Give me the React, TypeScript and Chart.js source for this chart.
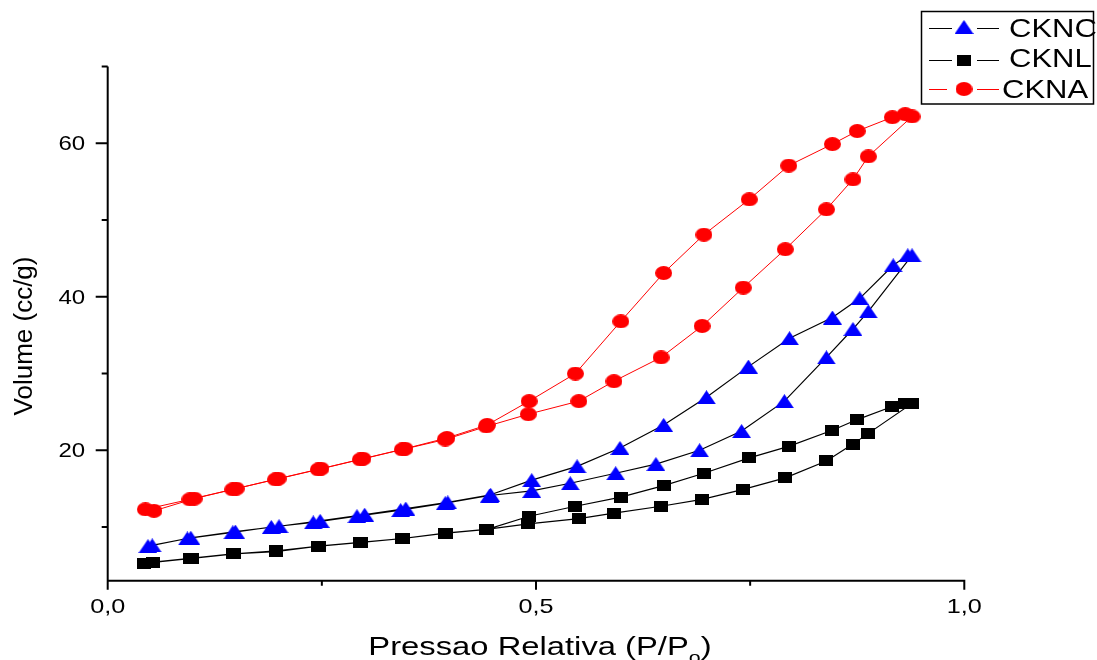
import React, { useEffect, useRef } from "react";
import { Chart, registerables } from "chart.js";

Chart.register(...registerables);

// ---- Axis definitions ----
const X_MIN = 0;
const X_MAX = 1;
const Y_MIN = 3;
const Y_MAX = 70;
const xMajorTicks = [0, 0.5, 1.0];
const xTickLabels = ["0,0", "0,5", "1,0"];
const xMinorTicks = [0.25, 0.75];
const yMajorTicks = [20, 40, 60];
const yTickLabels = ["20", "40", "60"];
const yMinorTicks = [10, 30, 50, 70];

const seriesNames = ["CKNC", "CKNL", "CKNA"];

// ---- CKNC (blue triangles) ----
const ckncAdsP = [0.047, 0.093, 0.146, 0.191, 0.240, 0.291, 0.342, 0.394, 0.446, 0.495, 0.540, 0.593, 0.640, 0.691, 0.740, 0.790, 0.839, 0.870, 0.888, 0.939];
const ckncAdsV = [7.5, 8.5, 9.3, 10.0, 10.6, 11.4, 12.2, 13.1, 14.1, 14.7, 15.7, 17.0, 18.2, 20.0, 22.5, 26.4, 32.1, 35.8, 38.1, 45.4];
const ckncDesP = [0.934, 0.917, 0.878, 0.846, 0.796, 0.748, 0.699, 0.649, 0.598, 0.548, 0.495, 0.447, 0.397, 0.348, 0.300, 0.248, 0.200, 0.149, 0.097, 0.052];
const ckncDesV = [45.4, 44.1, 39.8, 37.3, 34.6, 30.9, 26.9, 23.3, 20.3, 17.9, 16.1, 14.2, 13.2, 12.4, 11.6, 10.8, 10.1, 9.4, 8.6, 7.6];

// ---- CKNL (black squares) ----
const cknlAdsP = [0.042, 0.096, 0.146, 0.196, 0.246, 0.295, 0.344, 0.394, 0.442, 0.491, 0.550, 0.591, 0.646, 0.694, 0.742, 0.791, 0.839, 0.870, 0.888, 0.939];
const cknlAdsV = [5.3, 5.9, 6.5, 6.8, 7.5, 8.0, 8.5, 9.2, 9.7, 10.4, 11.1, 11.8, 12.7, 13.6, 14.9, 16.4, 18.6, 20.8, 22.2, 26.1];
const cknlDesP = [0.931, 0.916, 0.875, 0.846, 0.795, 0.749, 0.696, 0.649, 0.599, 0.546, 0.492, 0.443, 0.395, 0.345, 0.296, 0.247, 0.197, 0.148, 0.098, 0.053];
const cknlDesV = [26.1, 25.7, 24.0, 22.6, 20.5, 19.0, 17.0, 15.4, 13.9, 12.7, 11.4, 9.7, 9.2, 8.5, 8.0, 7.5, 6.9, 6.5, 5.9, 5.4];

// ---- CKNA (red circles) ----
const cknaAdsP = [0.044, 0.096, 0.146, 0.196, 0.246, 0.295, 0.344, 0.394, 0.442, 0.491, 0.550, 0.591, 0.646, 0.694, 0.742, 0.791, 0.839, 0.870, 0.888, 0.939];
const cknaAdsV = [12.3, 13.6, 14.9, 16.2, 17.5, 18.8, 20.1, 21.4, 23.1, 24.7, 26.4, 29.0, 32.1, 36.2, 41.2, 46.2, 51.4, 55.3, 58.3, 63.5];
const cknaDesP = [0.931, 0.916, 0.875, 0.846, 0.795, 0.749, 0.696, 0.649, 0.599, 0.546, 0.492, 0.443, 0.396, 0.347, 0.298, 0.249, 0.199, 0.150, 0.101, 0.054];
const cknaDesV = [63.8, 63.4, 61.6, 59.9, 57.1, 52.7, 48.1, 43.1, 36.8, 30.0, 26.4, 23.3, 21.6, 20.2, 18.9, 17.6, 16.3, 15.0, 13.7, 12.1];

const FONT = '"Liberation Sans", Arial, sans-serif';

function toPoints(p1: number[], v1: number[], p2: number[], v2: number[]) {
  const a = p1.map((p, i) => ({ x: p, y: v1[i] }));
  const b = p2.map((p, i) => ({ x: p, y: v2[i] }));
  return [...a, ...b];
}

function makeMarker(shape: string, color: string, w: number, h: number) {
  const c = document.createElement("canvas");
  c.width = w;
  c.height = h;
  const g = c.getContext("2d")!;
  g.fillStyle = color;
  g.beginPath();
  if (shape === "triangle") {
    g.moveTo(w / 2, 0);
    g.lineTo(w, h);
    g.lineTo(0, h);
    g.closePath();
  } else if (shape === "rect") {
    g.rect(0, 0, w, h);
  } else {
    g.ellipse(w / 2, h / 2, w / 2, h / 2, 0, 0, Math.PI * 2);
  }
  g.fill();
  return c;
}

function stretchedText(ctx: CanvasRenderingContext2D, text: string, x: number, y: number, sx: number, align: CanvasTextAlign, font: string) {
  ctx.save();
  ctx.translate(x, y);
  ctx.scale(sx, 1);
  ctx.font = font;
  ctx.textAlign = align;
  ctx.textBaseline = "alphabetic";
  ctx.fillText(text, 0, 0);
  ctx.restore();
}

export default function App() {
  const ref = useRef<HTMLCanvasElement | null>(null);

  useEffect(() => {
    if (!ref.current) return;
    const triangle = makeMarker("triangle", "#0000FF", 19, 14);
    const square = makeMarker("rect", "#000000", 14, 11);
    const circle = makeMarker("circle", "#FF0000", 17, 14);
    const markers = [triangle, square, circle];
    const lineColors = ["#000000", "#000000", "#FF0000"];

    const axesPlugin = {
      id: "originAxes",
      beforeDatasetsDraw(chart: any) {
        const ctx: CanvasRenderingContext2D = chart.ctx;
        const xs = chart.scales.x;
        const ys = chart.scales.y;
        const { left, right, top, bottom } = chart.chartArea;
        ctx.save();
        ctx.strokeStyle = "#000";
        ctx.fillStyle = "#000";
        ctx.lineWidth = 2;
        ctx.beginPath();
        ctx.moveTo(left, top);
        ctx.lineTo(left, bottom);
        ctx.moveTo(left - 1, bottom);
        ctx.lineTo(right + 1, bottom);
        xMajorTicks.forEach((v) => {
          const px = xs.getPixelForValue(v);
          ctx.moveTo(px, bottom);
          ctx.lineTo(px, bottom + 9);
        });
        xMinorTicks.forEach((v) => {
          const px = xs.getPixelForValue(v);
          ctx.moveTo(px, bottom);
          ctx.lineTo(px, bottom + 5);
        });
        yMajorTicks.forEach((v) => {
          const py = ys.getPixelForValue(v);
          ctx.moveTo(left - 12, py);
          ctx.lineTo(left, py);
        });
        yMinorTicks.forEach((v) => {
          const py = ys.getPixelForValue(v);
          ctx.moveTo(left - 6, py);
          ctx.lineTo(left, py);
        });
        ctx.stroke();

        // tick labels
        xMajorTicks.forEach((v, i) => {
          const px = xs.getPixelForValue(v);
          stretchedText(ctx, xTickLabels[i], px, bottom + 32.5, 1.2, "center", `21px ${FONT}`);
        });
        yMajorTicks.forEach((v, i) => {
          const py = ys.getPixelForValue(v);
          stretchedText(ctx, yTickLabels[i], left - 22.5, py + 6.8, 1.2, "right", `20px ${FONT}`);
        });

        // x title with subscript
        const sx = 1.26;
        const mainFont = `26px ${FONT}`;
        const subFont = `17px ${FONT}`;
        ctx.font = mainFont;
        const wMain = ctx.measureText("Pressao Relativa (P/P").width * sx;
        const wClose = ctx.measureText(")").width * sx;
        ctx.font = subFont;
        const wSub = ctx.measureText("o").width * sx;
        const total = wMain + wSub + wClose;
        const startX = 540 - total / 2;
        const baseY = 655;
        stretchedText(ctx, "Pressao Relativa (P/P", startX, baseY, sx, "left", mainFont);
        stretchedText(ctx, "o", startX + wMain, baseY + 8, sx, "left", subFont);
        stretchedText(ctx, ")", startX + wMain + wSub, baseY, sx, "left", mainFont);

        // y title
        ctx.save();
        ctx.translate(31.5, 336);
        ctx.rotate(-Math.PI / 2);
        ctx.font = `26px ${FONT}`;
        ctx.textAlign = "center";
        ctx.textBaseline = "alphabetic";
        ctx.fillText("Volume (cc/g)", 0, 0);
        ctx.restore();

        ctx.restore();
      },
    };

    const legendPlugin = {
      id: "originLegend",
      afterDraw(chart: any) {
        const ctx: CanvasRenderingContext2D = chart.ctx;
        ctx.save();
        ctx.strokeStyle = "#000";
        ctx.lineWidth = 1.5;
        ctx.strokeRect(921.5, 11.5, 172, 92.5);
        const rows = [28, 60, 89];
        const textX = [1009, 1009, 1002];
        const baselines = [36.7, 67.3, 97.7];
        seriesNames.forEach((name, i) => {
          const y = rows[i];
          ctx.strokeStyle = lineColors[i];
          ctx.lineWidth = 1;
          ctx.beginPath();
          ctx.moveTo(929, y + 0.5);
          ctx.lineTo(i === 2 ? 947 : 952, y + 0.5);
          ctx.moveTo(977, y + 0.5);
          ctx.lineTo(999, y + 0.5);
          ctx.stroke();
          const m = markers[i];
          ctx.drawImage(m, 964 - m.width / 2 - (i === 1 ? 0 : 0), y - m.height / 2 + (i === 0 ? -1 : 0));
          ctx.fillStyle = "#000";
          stretchedText(ctx, name, textX[i], baselines[i], 1.24, "left", `25px ${FONT}`);
        });
        ctx.restore();
      },
    };

    const mk = (data: any[], i: number) => ({
      label: seriesNames[i],
      data,
      showLine: true,
      borderColor: lineColors[i],
      borderWidth: i === 2 ? 1 : 1.2,
      pointStyle: markers[i],
      pointRadius: 8,
      pointHoverRadius: 8,
      clip: false as any,
    });

    const chart = new Chart(ref.current, {
      type: "scatter",
      data: {
        datasets: [
          mk(toPoints(ckncAdsP, ckncAdsV, ckncDesP, ckncDesV), 0),
          mk(toPoints(cknlAdsP, cknlAdsV, cknlDesP, cknlDesV), 1),
          mk(toPoints(cknaAdsP, cknaAdsV, cknaDesP, cknaDesV), 2),
        ],
      },
      options: {
        animation: false,
        responsive: false,
        events: [],
        layout: {
          padding: { left: 107.7, right: 1097 - 964.3, top: 66.6, bottom: 660 - 580.7 },
        },
        scales: {
          x: { type: "linear", min: X_MIN, max: X_MAX, display: false },
          y: { type: "linear", min: Y_MIN, max: Y_MAX, display: false },
        },
        plugins: {
          legend: { display: false },
          tooltip: { enabled: false },
        },
      },
      plugins: [axesPlugin, legendPlugin],
    });
    return () => chart.destroy();
  }, []);

  return (
    <div style={{ position: "absolute", left: 0, top: 0, width: 1097, height: 660, background: "#fff" }}>
      <canvas ref={ref} width={1097} height={660} style={{ display: "block", width: 1097, height: 660 }} />
    </div>
  );
}
